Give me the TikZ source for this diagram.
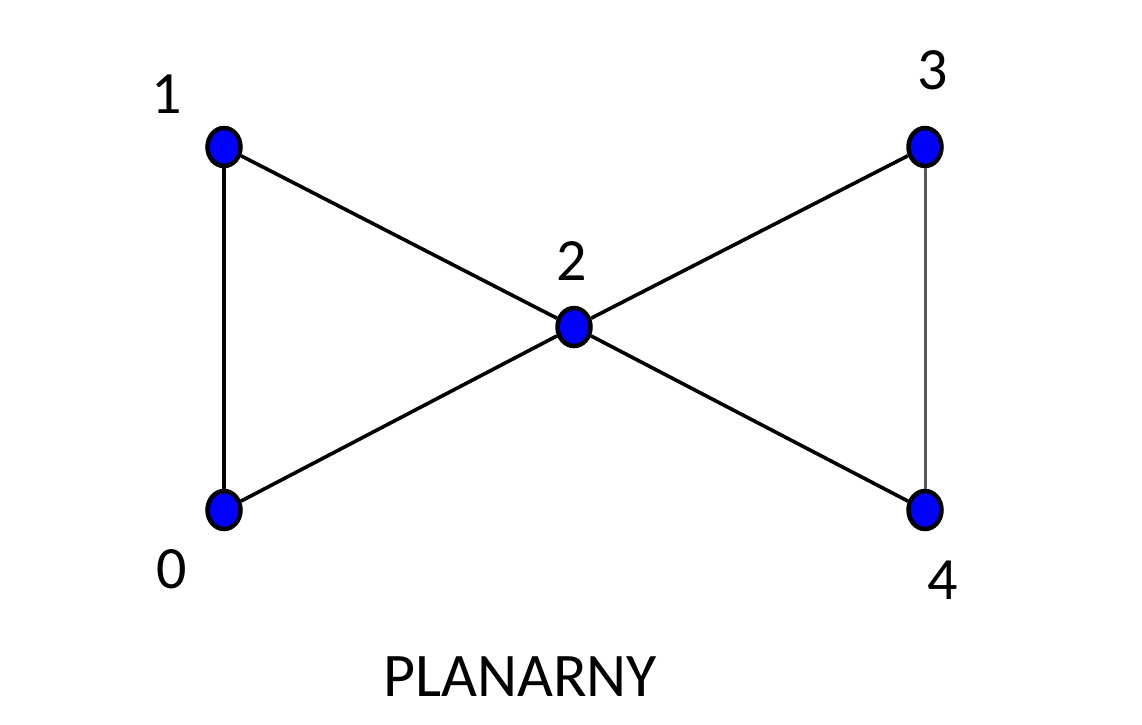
\documentclass[tikz,border=0pt]{standalone}
\usepackage{fontspec}
\setmainfont{Carlito}
\usetikzlibrary{shapes.geometric}
\definecolor{vblue}{RGB}{0,0,255}
\tikzset{
  vert/.style={ellipse, draw=black, line width=4.5pt, fill=vblue, minimum width=33pt, minimum height=38pt, inner sep=0pt},
  lbl/.style={inner sep=0pt, font=\fontsize{60}{72}\selectfont},
  edge/.style={line width=3.6pt, black},
}
\begin{document}
\begin{tikzpicture}[x=1pt,y=-1pt]
\useasboundingbox (0,0) rectangle (1142,724);
\node[vert] (v1) at (224,147) {};
\node[vert] (v3) at (925,147) {};
\node[vert] (v2) at (574,327) {};
\node[vert] (v0) at (224,510) {};
\node[vert] (v4) at (925,510) {};
\draw[edge] (v1) -- (v0);
\draw[edge] (v1) -- (v2);
\draw[edge] (v0) -- (v2);
\draw[edge] (v2) -- (v3);
\draw[edge] (v2) -- (v4);
\draw[edge, draw=black!65, line width=3pt] (v3) -- (v4);
\node[lbl] (l1) at (167,94) {1};
\node[lbl] (l2) at (572,261) {2};
\node[lbl] (l3) at (933,70) {3};
\node[lbl] (l0) at (172,569) {0};
\node[lbl] (l4) at (943,580) {4};
\node[lbl, font=\fontsize{62}{74}\selectfont] (title) at (520,677) {PLANARNY};
\end{tikzpicture}
\end{document}
